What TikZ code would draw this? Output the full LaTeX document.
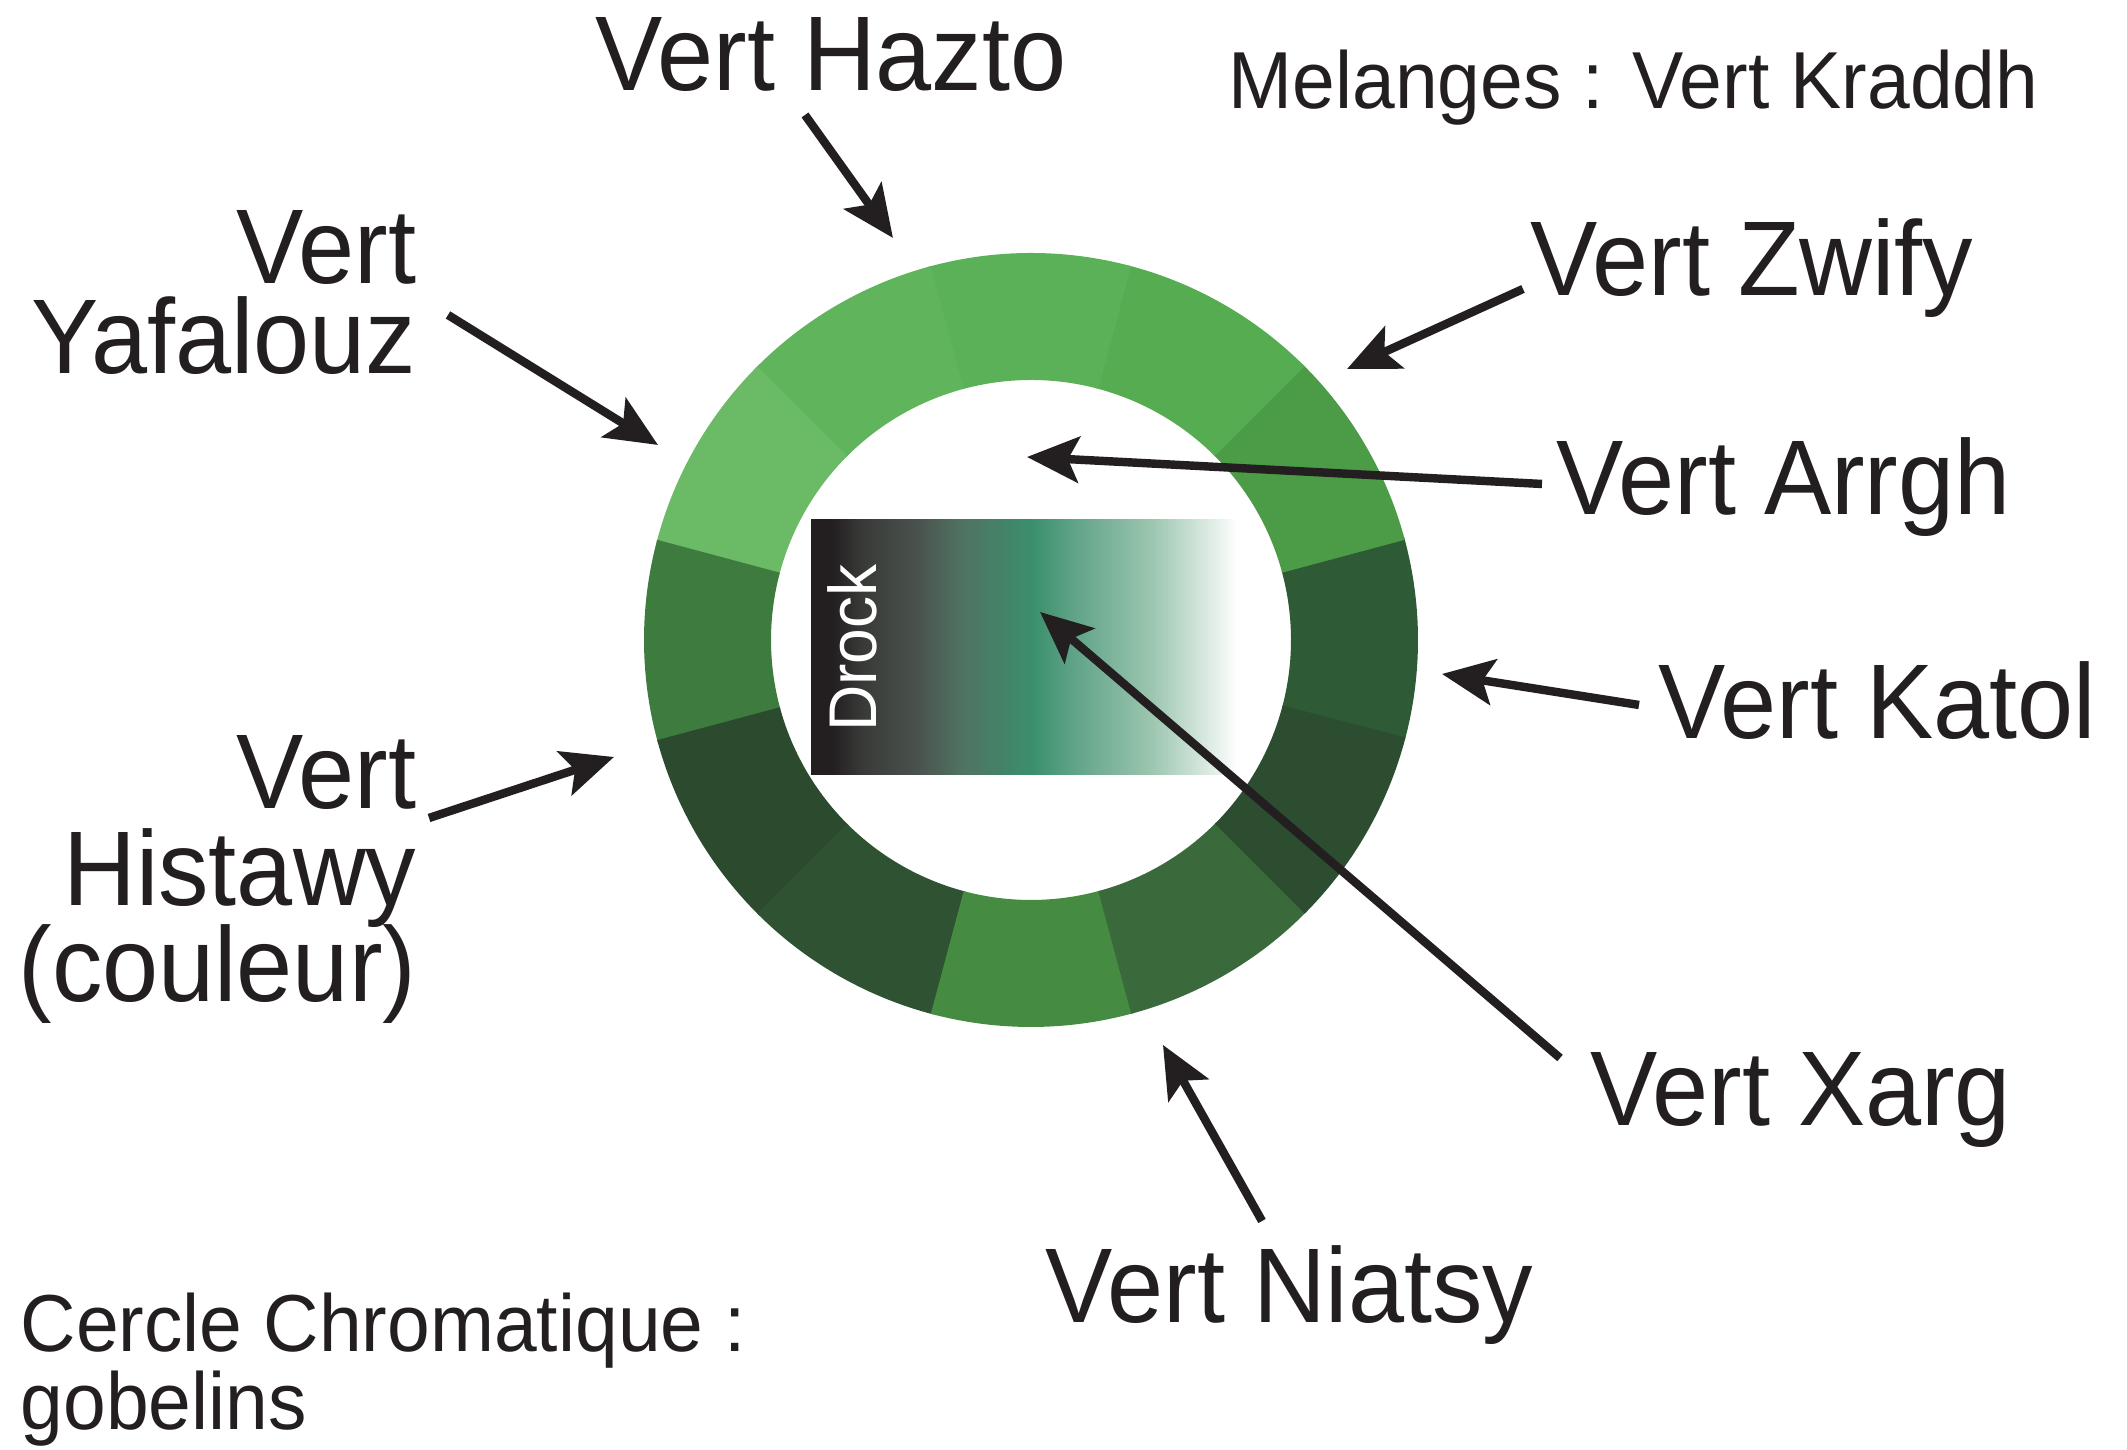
\documentclass[tikz,border=0pt]{standalone}
\usepackage{fontspec}
\setmainfont[FakeStretch=0.95]{Liberation Sans}
\usetikzlibrary{arrows.meta}

\definecolor{ink}{HTML}{231F20}
\definecolor{seg0}{HTML}{2E5A35}
\definecolor{seg30}{HTML}{4C9C47}
\definecolor{seg60}{HTML}{56AC51}
\definecolor{seg90}{HTML}{5BB157}
\definecolor{seg120}{HTML}{60B45B}
\definecolor{seg150}{HTML}{6BBA66}
\definecolor{seg180}{HTML}{3D7C3E}
\definecolor{seg210}{HTML}{2B4A2E}
\definecolor{seg240}{HTML}{2F5232}
\definecolor{seg270}{HTML}{458C42}
\definecolor{seg300}{HTML}{3A6A3B}
\definecolor{seg330}{HTML}{2C4D30}
\definecolor{drk1}{HTML}{231F20}
\definecolor{drk2}{HTML}{393A38}
\definecolor{drk3}{HTML}{4A524D}
\definecolor{drk4}{HTML}{507262}
\definecolor{drk5}{HTML}{3A8F6C}
\definecolor{drk6}{HTML}{5AA084}
\definecolor{drk7}{HTML}{9CC6B0}
\definecolor{drk8}{HTML}{EEF5F1}
\pgfdeclarehorizontalshading{drockfade}{100bp}{color(0bp)=(drk1); color(25bp)=(drk1);
    color(27.5bp)=(drk1); color(31bp)=(drk2); color(37.5bp)=(drk3); color(42.5bp)=(drk4);
    color(51bp)=(drk5); color(55bp)=(drk6); color(65bp)=(drk7); color(73.5bp)=(drk8);
    color(75bp)=(white); color(100bp)=(white)}

\begin{document}
\begin{tikzpicture}[
        lbl/.style={inner sep=0pt, text=ink, font={\fontsize{30.2}{25.6}\selectfont\lineskiplimit-30pt}},
        note/.style={inner sep=0pt, text=ink, font={\fontsize{23.0}{22.2}\selectfont\lineskiplimit-30pt}},
        pointer/.style={draw=ink, line width=2.4pt, -{Stealth[length=5.2mm, width=4.6mm, inset=1.1mm]}}
    ]
        \useasboundingbox (0, 0) rectangle (21.27, 14.50);
        \begin{scope}[shift={(10.31, 8.10)}]
            \foreach \a/\c in {0/seg0, 30/seg30, 60/seg60, 90/seg90, 120/seg120, 150/seg150,
                               180/seg180, 210/seg210, 240/seg240, 270/seg270, 300/seg300, 330/seg330}
                \fill[\c] ({\a-15}:3.87) arc[start angle=\a-15, end angle=\a+15.4, radius=3.87]
                    -- ({\a+15.4}:2.60) arc[start angle=\a+15.4, end angle=\a-15, radius=2.60] -- cycle;
        \end{scope}
        \shade[shading=drockfade] (8.11, 6.75) rectangle (12.37, 9.30);
        \node[rotate=90, inner sep=0pt, text=white, font=\fontsize{19.2}{20}\selectfont] (drock) at (8.52, 8.02) {Drock};

        \node[lbl, anchor=base west] (hazto)  at (5.95, 13.59) {Vert Hazto};
        \node[lbl, anchor=base west] (zwify)  at (15.30, 11.54) {Vert Zwify};
        \node[lbl, anchor=base west] (arrgh)  at (15.56, 9.35) {Vert Arrgh};
        \node[lbl, anchor=base west] (katol)  at (16.58, 7.11) {Vert Katol};
        \node[lbl, anchor=base west] (xarg)   at (15.90, 3.24) {Vert Xarg};
        \node[lbl, anchor=base west] (niatsy) at (10.45, 1.27) {Vert Niatsy};
        \node[lbl, anchor=east, align=right] (yafalouz) at (4.17, 11.575) {Vert\\Yafalouz};
        \node[lbl, anchor=east, align=right, font={\fontsize{30.2}{27.5}\selectfont\lineskiplimit-30pt}] (histawy)
            at (4.17, 5.705) {Vert\\Histawy\\(couleur)};
        \node[note, anchor=base west] (melanges) at (12.28, 13.415) {Melanges : Vert Kraddh};
        \node[note, anchor=west, align=left] (cercle) at (0.20, 0.805) {Cercle Chromatique :\\gobelins};

        \coordinate (hazto-tail)    at (8.05, 13.35);
        \coordinate (hazto-tip)     at (8.93, 12.12);
        \coordinate (yafalouz-tail) at (4.48, 11.35);
        \coordinate (yafalouz-tip)  at (6.58, 10.05);
        \coordinate (zwify-tail)    at (15.23, 11.61);
        \coordinate (zwify-tip)     at (13.47, 10.81);
        \coordinate (arrgh-tail)    at (15.42, 9.66);
        \coordinate (arrgh-tip)     at (10.27, 9.93);
        \coordinate (katol-tail)    at (16.39, 7.45);
        \coordinate (katol-tip)     at (14.42, 7.76);
        \coordinate (xarg-tail)     at (15.60, 3.92);
        \coordinate (xarg-tip)      at (10.40, 8.38);
        \coordinate (niatsy-tail)   at (12.62, 2.29);
        \coordinate (niatsy-tip)    at (11.63, 4.05);
        \coordinate (histawy-tail)  at (4.29, 6.32);
        \coordinate (histawy-tip)   at (6.14, 6.93);

        \draw[pointer] (hazto-tail)    -- (hazto-tip);
        \draw[pointer] (yafalouz-tail) -- (yafalouz-tip);
        \draw[pointer] (zwify-tail)    -- (zwify-tip);
        \draw[pointer] (arrgh-tail)    -- (arrgh-tip);
        \draw[pointer] (katol-tail)    -- (katol-tip);
        \draw[pointer] (xarg-tail)     -- (xarg-tip);
        \draw[pointer] (niatsy-tail)   -- (niatsy-tip);
        \draw[pointer] (histawy-tail)  -- (histawy-tip);
\end{tikzpicture}
\end{document}
